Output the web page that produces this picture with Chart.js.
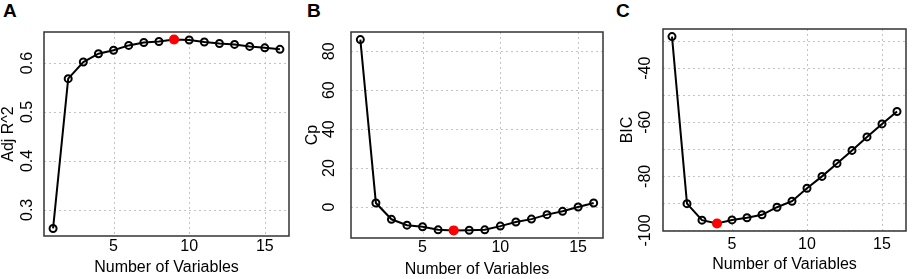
<!DOCTYPE html>
<html>
<head>
<meta charset="utf-8">
<script src="https://cdn.jsdelivr.net/npm/chart.js@4.4.0/dist/chart.umd.min.js"></script>
<style>
    body { margin: 0; background: #fff; width: 913px; height: 279px; overflow: hidden; position: relative;
           font-family: "Liberation Sans", Arial, sans-serif; }
    .panel { position: absolute; top: 0; height: 279px; }
    .tag { position: absolute; top: 0; font-weight: bold; font-size: 19px; line-height: 22px; color: #000; }
</style>
</head>
<body>
<div class="tag" style="left: 3px;">A</div>
<div class="tag" style="left: 307px;">B</div>
<div class="tag" style="left: 616px;">C</div>
<div class="panel" style="left: 0; width: 304px;"><canvas id="chartA" width="304" height="279"></canvas></div>
<div class="panel" style="left: 304px; width: 304px;"><canvas id="chartB" width="304" height="279"></canvas></div>
<div class="panel" style="left: 608px; width: 305px;"><canvas id="chartC" width="305" height="279"></canvas></div>

<script>
// Number of variables in the model
const numVars = [1, 2, 3, 4, 5, 6, 7, 8, 9, 10, 11, 12, 13, 14, 15, 16];
const xTicks = [5, 10, 15];

// Adjusted R^2
const adjR2 = [0.262, 0.568, 0.602, 0.619, 0.626, 0.636, 0.642, 0.644, 0.648, 0.647, 0.643, 0.640, 0.638, 0.634, 0.631, 0.628];
const adjR2Best = 9;
const adjR2Ticks = [0.3, 0.4, 0.5, 0.6];

// Mallows' Cp
const cp = [86.0, 2.1, -6.3, -9.3, -10.1, -11.7, -12.0, -11.9, -11.7, -9.8, -7.7, -6.2, -3.9, -2.2, 0.0, 2.1];
const cpBest = 7;
const cpTicks = [0, 20, 40, 60, 80];

// BIC
const bic = [-28.3, -90.1, -96.2, -97.4, -96.1, -95.3, -94.2, -91.4, -89.2, -84.4, -80.0, -75.2, -70.4, -65.4, -60.6, -56.0];
const bicBest = 4;
const bicGrid = [-100, -90, -80, -70, -60, -50, -40, -30];
const bicTicks = [-100, -80, -60, -40];

const FONT = "16px 'Liberation Sans', Arial, sans-serif";

// R-style axes: dotted grid, box, rotated y labels
const rAxesPlugin = {
    id: 'rAxes',
    beforeDatasetsDraw(chart, args, opts) {
        const ctx = chart.ctx;
        const area = chart.chartArea;
        const xs = chart.scales.x;
        const ys = chart.scales.y;
        ctx.save();
        ctx.strokeStyle = '#c4c4c4';
        ctx.lineWidth = 1;
        ctx.setLineDash([2, 3]);
        ctx.beginPath();
        xTicks.forEach(v => {
            const px = Math.round(xs.getPixelForValue(v)) + 0.5;
            ctx.moveTo(px, area.top);
            ctx.lineTo(px, area.bottom);
        });
        opts.yGrid.forEach(v => {
            const py = Math.round(ys.getPixelForValue(v)) + 0.5;
            ctx.moveTo(area.left, py);
            ctx.lineTo(area.right, py);
        });
        ctx.stroke();
        ctx.restore();
    },
    afterDatasetsDraw(chart, args, opts) {
        const ctx = chart.ctx;
        const area = chart.chartArea;
        const xs = chart.scales.x;
        const ys = chart.scales.y;
        ctx.save();
        ctx.strokeStyle = '#333';
        ctx.lineWidth = 1.5;
        ctx.strokeRect(area.left, area.top, area.right - area.left, area.bottom - area.top);

        ctx.fillStyle = '#000';
        ctx.font = FONT;
        ctx.textAlign = 'center';
        ctx.textBaseline = 'middle';
        xTicks.forEach(v => ctx.fillText(String(v), xs.getPixelForValue(v), opts.xTickY));
        ctx.fillText('Number of Variables', (area.left + area.right) / 2, opts.xTitleY);

        opts.yLabels.forEach(v => {
            ctx.save();
            ctx.translate(opts.yTickX, ys.getPixelForValue(v));
            ctx.rotate(-Math.PI / 2);
            ctx.fillText(String(v), 0, 0);
            ctx.restore();
        });
        ctx.save();
        ctx.translate(opts.yTitleX, (area.top + area.bottom) / 2);
        ctx.rotate(-Math.PI / 2);
        ctx.fillText(opts.yTitle, 0, 0);
        ctx.restore();
        ctx.restore();
    }
};

function makePanel(id, values, best, yMin, yMax, yGrid, yLabels, yTitle, geom) {
    const canvas = document.getElementById(id);
    const points = numVars.map((n, i) => ({ x: n, y: values[i] }));
    const bestPoint = [{ x: best, y: values[numVars.indexOf(best)] }];

    return new Chart(canvas, {
        type: 'line',
        data: {
            datasets: [{
                data: bestPoint,
                showLine: false,
                pointRadius: 5,
                pointBackgroundColor: '#ff0000',
                pointBorderWidth: 0,
                order: 0
            }, {
                data: points,
                borderColor: '#000',
                borderWidth: 2,
                pointRadius: 3.5,
                pointBorderWidth: 2,
                pointBorderColor: '#000',
                pointBackgroundColor: 'rgba(0,0,0,0)',
                tension: 0,
                order: 1
            }]
        },
        options: {
            responsive: false,
            animation: false,
            layout: {
                autoPadding: false,
                padding: { left: geom.left, top: geom.top, right: canvas.width - geom.right, bottom: 279 - geom.bottom }
            },
            plugins: {
                legend: { display: false },
                tooltip: { enabled: false },
                rAxes: { xTickY: geom.xTickY, xTitleY: geom.xTitleY, yTickX: geom.yTickX, yTitleX: geom.yTitleX,
                         yGrid: yGrid, yLabels: yLabels, yTitle: yTitle }
            },
            scales: {
                x: {
                    type: 'linear',
                    min: 0.4,
                    max: 16.6,
                    afterFit: s => { s.height = 0; },
                    ticks: { display: false },
                    border: { display: false },
                    grid: { display: false }
                },
                y: {
                    min: yMin,
                    max: yMax,
                    afterFit: s => { s.width = 0; },
                    ticks: { display: false },
                    border: { display: false },
                    grid: { display: false }
                }
            }
        },
        plugins: [rAxesPlugin]
    });
}

makePanel('chartA', adjR2, adjR2Best, 0.2466, 0.6634, adjR2Ticks, adjR2Ticks, 'Adj R^2',
    { left: 44, right: 289, top: 32, bottom: 236, yTickX: 28, yTitleX: 9, xTickY: 247, xTitleY: 268 });
makePanel('chartB', cp, cpBest, -15.9, 89.9, cpTicks, cpTicks, 'Cp',
    { left: 47, right: 299, top: 32, bottom: 238, yTickX: 26, yTitleX: 9, xTickY: 248, xTitleY: 270 });
makePanel('chartC', bic, bicBest, -100.2, -25.5, bicGrid, bicTicks, 'BIC',
    { left: 55, right: 298, top: 29, bottom: 231, yTickX: 38, yTitleX: 20, xTickY: 245, xTitleY: 265 });
</script>
</body>
</html>
